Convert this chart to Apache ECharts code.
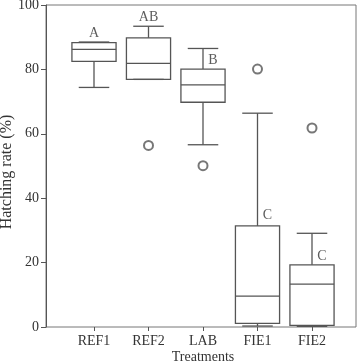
<!DOCTYPE html>
<html><head><meta charset="utf-8">
<script src="https://cdn.jsdelivr.net/npm/echarts@6/dist/echarts.min.js"></script>
<style>html,body{margin:0;padding:0;background:#fff}#c{width:358px;height:363px}</style>
</head><body><div id="c"></div>
<script>
var categories = ['REF1', 'REF2', 'LAB', 'FIE1', 'FIE2'];
// [lower whisker, Q1, median, Q3, upper whisker]
var whiskerLow = [74.4, 76.9, 56.6, 0.3, 0.2];
var q1 = [82.5, 76.9, 69.8, 1.1, 0.5];
var median = [86.2, 81.9, 75.2, 9.6, 13.3];
var q3 = [88.3, 89.8, 80.1, 31.4, 19.3];
var whiskerHigh = [88.5, 93.4, 86.5, 66.4, 29.1];
var outlierCat = ['REF2', 'LAB', 'FIE1', 'FIE2'];
var outlierVal = [56.4, 50.1, 80.1, 61.8];
var letters = ['A', 'AB', 'B', 'C', 'C'];
var letterVal = [91.3, 96.3, 82.9, 34.8, 22.1];
var letterBeside = [false, false, true, true, true];
var yTicks = [0, 20, 40, 60, 80, 100];

var FONT = '"Liberation Serif", "DejaVu Serif", serif';
var LINE = '#555';

var boxData = categories.map(function (c, i) {
  return [i, whiskerLow[i], q1[i], median[i], q3[i], whiskerHigh[i]];
});

function renderBox(params, api) {
  var x = api.value(0);
  var band = api.size([1, 0])[0];
  var half = band * 0.405;
  var cap = band * 0.28;
  var pLow = api.coord([x, api.value(1)]);
  var pQ1 = api.coord([x, api.value(2)]);
  var pMed = api.coord([x, api.value(3)]);
  var pQ3 = api.coord([x, api.value(4)]);
  var pHigh = api.coord([x, api.value(5)]);
  var cx = pMed[0];
  var st = { stroke: LINE, lineWidth: 1.3, fill: null };
  var children = [
    { type: 'rect', shape: { x: cx - half, y: pQ3[1], width: half * 2, height: pQ1[1] - pQ3[1] }, style: st },
    { type: 'line', shape: { x1: cx - half, y1: pMed[1], x2: cx + half, y2: pMed[1] }, style: st },
    { type: 'line', shape: { x1: cx, y1: pQ3[1], x2: cx, y2: pHigh[1] }, style: st },
    { type: 'line', shape: { x1: cx - cap, y1: pHigh[1], x2: cx + cap, y2: pHigh[1] }, style: st },
    { type: 'line', shape: { x1: cx, y1: pQ1[1], x2: cx, y2: pLow[1] }, style: st },
    { type: 'line', shape: { x1: cx - cap, y1: pLow[1], x2: cx + cap, y2: pLow[1] }, style: st }
  ];
  return { type: 'group', children: children };
}

var chart = echarts.init(document.getElementById('c'), null, { renderer: 'canvas' });
chart.setOption({
  animation: false,
  backgroundColor: '#fff',
  grid: [
    { left: 46, right: 2, top: 5, bottom: 36, show: true, borderColor: '#777', borderWidth: 1, backgroundColor: 'transparent', containLabel: false, outerBoundsMode: 'none' },
    { left: 66.75, width: 272.5, top: 5, bottom: 36, show: false, containLabel: false, outerBoundsMode: 'none' }
  ],
  xAxis: [
    { gridIndex: 0, type: 'value', min: 0, max: 1, show: false },
    {
      gridIndex: 1, type: 'category', data: categories, boundaryGap: true,
      name: 'Treatments', nameLocation: 'middle', nameGap: 23, nameMoveOverlap: false,
      nameTextStyle: { fontFamily: FONT, fontSize: 14, color: '#333' },
      axisLine: { show: false },
      axisTick: { show: true, alignWithLabel: true, length: 4, lineStyle: { color: '#555' } },
      axisLabel: { fontFamily: FONT, fontSize: 14, color: '#333', margin: 7 },
      splitLine: { show: false }
    }
  ],
  yAxis: [
    {
      gridIndex: 0, type: 'value', min: 0, max: 100, interval: 20,
      name: 'Hatching rate (%)', nameLocation: 'middle', nameGap: 31, nameMoveOverlap: false,
      nameTextStyle: { fontFamily: FONT, fontSize: 16, color: '#333', padding: [0, 12, 0, 0] },
      axisLine: { show: true, lineStyle: { color: '#555' } },
      axisTick: { show: true, length: 5, lineStyle: { color: '#555' } },
      axisLabel: {
        fontFamily: FONT, fontSize: 14, color: '#333', margin: 7,
        formatter: function (v) { return yTicks.indexOf(v) >= 0 ? String(v) : ''; }
      },
      splitLine: { show: false }
    },
    { gridIndex: 1, type: 'value', min: 0, max: 100, show: false }
  ],
  series: [
    {
      type: 'custom', xAxisIndex: 1, yAxisIndex: 1,
      renderItem: renderBox,
      encode: { x: 0, y: [1, 2, 3, 4, 5] },
      data: boxData, z: 3
    },
    {
      type: 'scatter', xAxisIndex: 1, yAxisIndex: 1,
      symbol: 'emptyCircle', symbolSize: 9,
      itemStyle: { color: LINE, borderColor: LINE, borderWidth: 1.2 },
      data: outlierCat.map(function (c, i) { return [c, outlierVal[i]]; }), z: 4
    },
    {
      type: 'scatter', xAxisIndex: 1, yAxisIndex: 1,
      symbolSize: 0,
      label: {
        show: true, position: 'inside', fontFamily: FONT, fontSize: 14, color: '#333',
        formatter: function (p) { return letters[p.dataIndex]; }
      },
      data: categories.map(function (c, i) {
        return {
          value: [c, letterVal[i]],
          label: { offset: letterBeside[i] ? [10, 0] : [0, 0] }
        };
      }), z: 5
    }
  ]
});
</script></body></html>
